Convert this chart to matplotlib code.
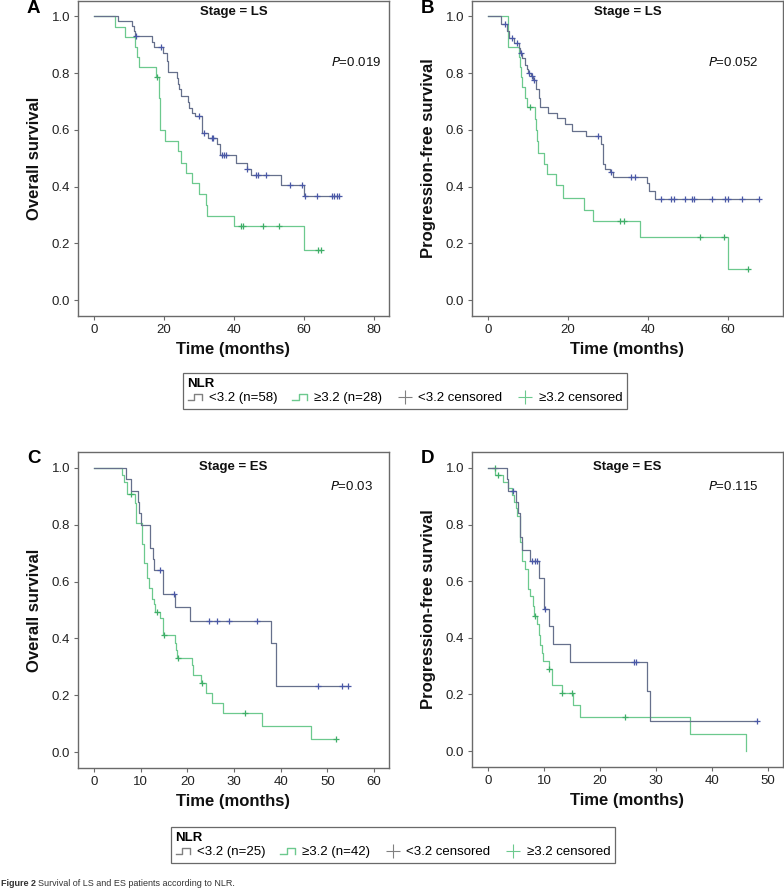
import numpy as np
import matplotlib
matplotlib.use("Agg")
import matplotlib.pyplot as plt
from matplotlib.lines import Line2D
from matplotlib.legend_handler import HandlerBase

plt.rcParams['font.family'] = ['Liberation Sans', 'DejaVu Sans']

# ---- data ----
# A: overall survival, LS
a_low_t = [6.9, 10.8, 11.3, 11.7, 16.5, 17.2, 19.8, 20.8, 21.2, 23.6, 24.1, 24.4, 25.0, 26.8, 27.2,
           28.1, 28.8, 31.0, 32.7, 35.2, 36.0, 40.5, 43.6, 45.0, 53.4, 60.0]
a_low_s = [0.983, 0.965, 0.948, 0.930, 0.911, 0.893, 0.871, 0.842, 0.805, 0.784, 0.763, 0.743, 0.719,
           0.700, 0.678, 0.661, 0.648, 0.590, 0.573, 0.551, 0.511, 0.485, 0.462, 0.440, 0.406, 0.368]
a_low_c = [11.9, 19.1, 30.1, 31.4, 33.6, 34.1, 36.5, 37.1, 37.6, 43.8, 46.2, 46.8, 49.1, 56.0, 59.3,
           60.3, 63.8, 67.9, 68.7, 69.3, 70.1]
a_high_t = [6.0, 9.0, 11.7, 12.3, 13.0, 17.7, 18.5, 18.7, 18.9, 20.3, 23.9, 24.9, 26.3, 27.9, 30.0,
            31.9, 32.2, 40.1, 60.0]
a_high_s = [0.964, 0.929, 0.893, 0.857, 0.821, 0.786, 0.750, 0.714, 0.599, 0.561, 0.524, 0.485, 0.448,
            0.412, 0.374, 0.336, 0.298, 0.261, 0.175]
a_high_c = [18.1, 42.0, 42.7, 48.4, 53.0, 63.9, 64.8]

# B: progression-free survival, LS
b_low_t = [3.25, 4.75, 5.2, 6.6, 7.7, 8.0, 8.5, 9.3, 9.75, 10.0, 10.7, 11.3, 12.0, 12.7, 13.1, 15.0,
           17.25, 19.3, 21.0, 24.6, 28.3, 28.75, 29.3, 30.5, 31.25, 39.75, 40.2, 41.8]
b_low_s = [0.974, 0.950, 0.924, 0.906, 0.889, 0.871, 0.853, 0.830, 0.813, 0.800, 0.789, 0.775, 0.743,
           0.713, 0.681, 0.661, 0.641, 0.620, 0.596, 0.579, 0.550, 0.480, 0.462, 0.452, 0.433, 0.412,
           0.385, 0.357]
b_low_c = [4.2, 6.0, 7.25, 8.25, 10.2, 11.0, 11.6, 27.4, 30.75, 35.8, 36.8, 43.3, 45.8, 46.4, 49.3,
           51.0, 51.4, 56.0, 59.3, 59.9, 63.5, 67.7]
b_high_t = [5.0, 7.7, 8.0, 8.3, 8.6, 9.3, 9.7, 11.8, 12.0, 12.2, 12.4, 13.9, 14.75, 17.0, 18.7, 24.1,
            26.2, 37.9, 59.9]
b_high_s = [0.893, 0.857, 0.821, 0.786, 0.750, 0.714, 0.679, 0.640, 0.600, 0.560, 0.517, 0.480, 0.444,
            0.404, 0.360, 0.318, 0.278, 0.222, 0.111]
b_high_c = [10.6, 32.9, 33.9, 52.9, 58.9, 64.9]

# C: overall survival, ES
c_low_t = [6.85, 7.9, 9.35, 9.7, 10.0, 12.1, 12.6, 12.9, 14.8, 17.4, 20.6, 37.9, 39.0]
c_low_s = [0.960, 0.920, 0.880, 0.840, 0.800, 0.720, 0.680, 0.640, 0.556, 0.510, 0.463, 0.385, 0.231]
c_low_c = [14.1, 17.2, 24.7, 26.4, 29.0, 35.0, 48.0, 53.2, 54.5]
c_high_t = [5.9, 6.4, 7.0, 8.8, 9.1, 10.2, 10.7, 11.3, 11.8, 12.4, 12.9, 13.1, 14.1, 14.7, 17.3, 17.5,
            17.7, 21.1, 21.3, 22.9, 24.0, 25.2, 27.6, 36.0, 46.4]
c_high_s = [0.976, 0.952, 0.907, 0.876, 0.805, 0.734, 0.664, 0.613, 0.576, 0.539, 0.520, 0.494, 0.471,
            0.412, 0.385, 0.358, 0.330, 0.306, 0.271, 0.242, 0.207, 0.174, 0.138, 0.092, 0.045]
c_high_c = [7.9, 13.6, 15.0, 18.05, 23.1, 32.3, 51.8]

# D: progression-free survival, ES
d_low_t = [3.4, 3.6, 5.0, 5.35, 5.75, 6.05, 7.55, 9.05, 9.95, 10.85, 11.55, 14.6, 28.4, 28.9]
d_low_s = [0.960, 0.920, 0.880, 0.840, 0.757, 0.710, 0.671, 0.613, 0.502, 0.440, 0.379, 0.315, 0.211, 0.106]
d_low_c = [4.4, 7.85, 8.35, 8.75, 10.25, 26.0, 26.5, 48.1]
d_high_t = [1.3, 2.6, 3.6, 4.2, 4.6, 5.0, 5.2, 5.65, 6.05, 6.65, 7.15, 7.55, 8.0, 8.3, 8.75, 9.05, 9.35,
            9.65, 9.75, 10.85, 11.45, 13.2, 15.2, 16.4, 36.0, 46.1]
d_high_s = [0.976, 0.952, 0.929, 0.905, 0.881, 0.857, 0.830, 0.738, 0.672, 0.643, 0.571, 0.548, 0.512,
            0.477, 0.450, 0.410, 0.374, 0.346, 0.317, 0.291, 0.235, 0.206, 0.164, 0.121, 0.061, 0.0]
d_high_c = [1.2, 1.8, 8.45, 10.95, 13.3, 15.0, 24.5]

panel_letters = ['A', 'B', 'C', 'D']
stages = ['Stage = LS', 'Stage = LS', 'Stage = ES', 'Stage = ES']
p_values = ['0.019', '0.052', '0.03', '0.115']
ylabels = ['Overall survival', 'Progression-free survival', 'Overall survival', 'Progression-free survival']
xticks = [[0, 20, 40, 60, 80], [0, 20, 40, 60], [0, 10, 20, 30, 40, 50, 60], [0, 10, 20, 30, 40, 50]]
xlims = [(-4.57, 84.3), (-4.0, 73.75), (-3.43, 63.2), (-2.86, 52.7)]
legend1_labels = ['<3.2 (n=58)', '≥3.2 (n=28)', '<3.2 censored', '≥3.2 censored']
legend2_labels = ['<3.2 (n=25)', '≥3.2 (n=42)', '<3.2 censored', '≥3.2 censored']

blue_line = '#66708c'
blue_cens = '#4a58a6'
green_line = '#6cc98e'
green_cens = '#3fae68'
frame_col = '#6a6a6a'


def km(ax, t, s, c, lc, cc):
    end = max(t[-1], max(c))
    xs = [0] + list(t) + [end]
    ys = [1.0] + list(s) + [s[-1]]
    ax.step(xs, ys, where='post', color=lc, lw=0.9)
    idx = np.searchsorted(t, c, side='right')
    cy = [1.0 if i == 0 else s[i - 1] for i in idx]
    ax.plot(c, cy, linestyle='None', marker='+', markersize=5, mew=0.9, color=cc)


class StepHandler(HandlerBase):
    def create_artists(self, legend, orig_handle, xdescent, ydescent, width, height, fontsize, trans):
        x0, y0 = -xdescent, -ydescent
        xs = [x0, x0 + 0.4 * width, x0 + 0.4 * width, x0 + 0.9 * width, x0 + 0.9 * width]
        ys = [y0 + 0.15 * height, y0 + 0.15 * height, y0 + 0.8 * height, y0 + 0.8 * height, y0 + 0.15 * height]
        return [Line2D(xs, ys, color=orig_handle.get_color(), lw=1.0, transform=trans)]


fig = plt.figure(figsize=(7.84, 8.89), dpi=100)
W, H = 784.0, 889.0
boxes = [(78, 0.5, 389, 316), (472, 0.5, 783, 316), (78, 452, 389, 768), (472, 452, 783, 767)]
series = [(a_low_t, a_low_s, a_low_c, a_high_t, a_high_s, a_high_c),
          (b_low_t, b_low_s, b_low_c, b_high_t, b_high_s, b_high_c),
          (c_low_t, c_low_s, c_low_c, c_high_t, c_high_s, c_high_c),
          (d_low_t, d_low_s, d_low_c, d_high_t, d_high_s, d_high_c)]
p_pos = [(0.974, 0.804), (0.922, 0.804), (0.949, 0.892), (0.922, 0.89)]

for k in range(4):
    x0, y0, x1, y1 = boxes[k]
    ax = fig.add_axes([x0 / W, 1 - y1 / H, (x1 - x0) / W, (y1 - y0) / H])
    lt, ls_, lc_, ht, hs, hc = series[k]
    km(ax, ht, hs, hc, green_line, green_cens)
    km(ax, lt, ls_, lc_, blue_line, blue_cens)
    ax.set_xlim(*xlims[k])
    ax.set_ylim(-0.0563, 1.0563)
    ax.set_xticks(xticks[k])
    ax.set_yticks([0.0, 0.2, 0.4, 0.6, 0.8, 1.0])
    ax.set_yticklabels(['0.0', '0.2', '0.4', '0.6', '0.8', '1.0'])
    for sp in ax.spines.values():
        sp.set_color(frame_col)
        sp.set_linewidth(1.0)
    ax.tick_params(direction='out', length=3, width=0.8, color=frame_col, labelsize=9.5,
                   labelcolor='#222222', pad=2.5)
    ax.set_xlabel('Time (months)', fontsize=12, fontweight='bold', color='#111111')
    ax.xaxis.set_label_coords(0.5, -0.082)
    ax.set_ylabel(ylabels[k], fontsize=12, fontweight='bold', color='#111111')
    ax.yaxis.set_label_coords(-0.116, 0.5)
    ty = 0.962 if k < 2 else 0.953
    ax.text(0.5, ty, stages[k], transform=ax.transAxes, ha='center', va='center',
            fontsize=9.5, fontweight='bold', color='#111111')
    px, py = p_pos[k]
    ax.text(px, py, r'$\it{P}$=' + p_values[k], transform=ax.transAxes, ha='right', va='center',
            fontsize=9.5, color='#111111')
    lx = 27 if k % 2 == 0 else 421
    ly = 0 if k < 2 else 450
    fig.text(lx / W, 1 - ly / H, panel_letters[k], fontsize=13.5, fontweight='bold', va='top', ha='left')

handles = [Line2D([], [], color='#808080'), Line2D([], [], color=green_line),
           Line2D([], [], color='#808080', marker='+', linestyle='None', markersize=10, mew=0.8),
           Line2D([], [], color=green_line, marker='+', linestyle='None', markersize=10, mew=0.8)]
hmap = {handles[0]: StepHandler(), handles[1]: StepHandler()}

leg_kw = dict(loc='upper left', ncol=4, title='NLR', alignment='left', frameon=True, fancybox=False,
              edgecolor='#444444', borderaxespad=0, handlelength=1.2, handletextpad=0.45,
              columnspacing=1.1, fontsize=9.5, borderpad=0.35, labelspacing=0.2,
              title_fontproperties={'weight': 'bold', 'size': 9.5}, handler_map=hmap)
leg1 = fig.legend(handles, legend1_labels, bbox_to_anchor=(183 / W, 1 - 373 / H), **leg_kw)
leg1.get_frame().set_linewidth(0.9)
leg2 = fig.legend(handles, legend2_labels, bbox_to_anchor=(171 / W, 1 - 827 / H), **leg_kw)
leg2.get_frame().set_linewidth(0.9)

fig.text(1 / W, 1 / H, 'Figure 2', fontsize=6.5, fontweight='bold', va='bottom', ha='left', color='#333333')
fig.text(38 / W, 1 / H, 'Survival of LS and ES patients according to NLR.', fontsize=6.5,
         va='bottom', ha='left', color='#333333')

fig.savefig('out.png', dpi=100)
